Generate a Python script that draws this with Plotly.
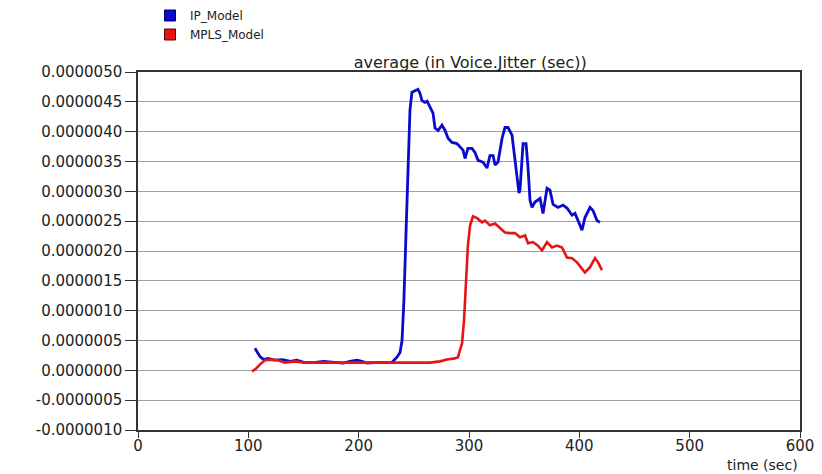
import plotly.graph_objects as go

# ---- data (time in sec, jitter in microseconds; scaled to seconds below) ----
ip_time = [106, 110.6, 114, 117.8, 124, 131, 138, 144, 151, 159, 168, 177, 186, 192, 198.5,
           203, 207.6, 215, 224, 230, 234.7, 237.5, 239.3, 241, 243, 244.7, 246.5, 248.3,
           251, 253.8, 255.6, 257.4, 260, 262, 264.7, 267.4, 269.2, 272, 275.5, 278.3, 281,
           284.6, 289, 291.8, 294.6, 296.4, 299, 302.7, 305.4, 308.2, 312.7, 316.3, 319,
           321.8, 323.6, 326.3, 330, 332.6, 335.4, 339, 341.7, 343.5, 345.3, 346.2, 349,
           351.7, 353.5, 355.3, 357.1, 359.8, 364.4, 367.1, 370.7, 373.4, 376.2, 380.7,
           385.2, 388.8, 393.4, 396.1, 400.6, 402.4, 405.1, 409.7, 412.4, 416, 418.7]
ip_jitter_us = [0.37, 0.23, 0.18, 0.20, 0.17, 0.18, 0.15, 0.17, 0.13, 0.13, 0.15, 0.13, 0.12,
                0.15, 0.17, 0.15, 0.12, 0.13, 0.13, 0.13, 0.22, 0.30, 0.50, 1.17, 2.35, 3.52,
                4.36, 4.66, 4.69, 4.71, 4.64, 4.52, 4.49, 4.51, 4.41, 4.31, 4.06, 4.02, 4.11,
                4.02, 3.89, 3.82, 3.80, 3.74, 3.69, 3.55, 3.72, 3.72, 3.65, 3.52, 3.49, 3.39,
                3.60, 3.60, 3.44, 3.49, 3.89, 4.07, 4.07, 3.94, 3.55, 3.23, 2.97, 3.02, 3.80,
                3.80, 3.40, 2.85, 2.73, 2.82, 2.88, 2.63, 3.05, 3.02, 2.78, 2.73, 2.77, 2.72,
                2.60, 2.63, 2.43, 2.35, 2.56, 2.73, 2.68, 2.51, 2.48]

mpls_time = [103.3, 107, 110.6, 115, 119.6, 127, 133, 142, 151, 160, 169.5, 183, 196.7, 210,
             224, 233, 242, 249, 257.4, 264.7, 273.7, 280, 287, 290, 291.8, 293.7, 295.5,
             297.3, 299, 301, 303.6, 307.3, 311.8, 314.5, 319, 323.6, 328, 332.6, 337.2,
             341.7, 346.2, 350.8, 353.5, 358, 362.5, 366.2, 370.7, 375.2, 379.8, 384.3, 388.8,
             393.4, 397.9, 402.4, 405.1, 409.7, 414.2, 417, 420.5]
mpls_jitter_us = [-0.02, 0.03, 0.10, 0.17, 0.18, 0.17, 0.13, 0.15, 0.13, 0.13, 0.13, 0.13,
                  0.13, 0.12, 0.13, 0.13, 0.13, 0.12, 0.13, 0.13, 0.15, 0.18, 0.20, 0.22, 0.34,
                  0.45, 0.84, 1.51, 2.09, 2.43, 2.58, 2.55, 2.48, 2.51, 2.43, 2.46, 2.38, 2.31,
                  2.30, 2.30, 2.23, 2.26, 2.13, 2.15, 2.09, 2.01, 2.15, 2.06, 2.09, 2.06, 1.89,
                  1.88, 1.81, 1.71, 1.64, 1.73, 1.88, 1.81, 1.68]

series_names = ["IP_Model", "MPLS_Model"]
y_tick_vals = [-1.0e-6, -0.5e-6, 0.0, 0.5e-6, 1.0e-6, 1.5e-6, 2.0e-6, 2.5e-6,
               3.0e-6, 3.5e-6, 4.0e-6, 4.5e-6, 5.0e-6]
y_tick_text = ["-0.0000010", "-0.0000005", "0.0000000", "0.0000005", "0.0000010",
               "0.0000015", "0.0000020", "0.0000025", "0.0000030", "0.0000035",
               "0.0000040", "0.0000045", "0.0000050"]
x_tick_vals = [0, 100, 200, 300, 400, 500, 600]

US = 1e-6
BLUE = "#0a0acc"
RED = "#e81414"
FONT = "DejaVu Sans"
TXT = "#222222"

fig = go.Figure()
fig.add_trace(go.Scatter(x=ip_time, y=[v * US for v in ip_jitter_us], mode="lines",
                         line=dict(color=BLUE, width=2.8), showlegend=False))
fig.add_trace(go.Scatter(x=mpls_time, y=[v * US for v in mpls_jitter_us], mode="lines",
                         line=dict(color=RED, width=2.6), showlegend=False))
# legend entries (square swatches)
for name, col, edge in [(series_names[0], BLUE, "#000060"), (series_names[1], RED, "#600000")]:
    fig.add_trace(go.Scatter(x=[None], y=[None], mode="markers", name=name,
                             marker=dict(symbol="square", size=11, color=col,
                                         line=dict(color=edge, width=1))))

fig.update_layout(
    width=822, height=474,
    margin=dict(l=138, r=22, t=72, b=44, autoexpand=False),
    paper_bgcolor="white", plot_bgcolor="white",
    font=dict(family=FONT, size=14, color=TXT),
    title=dict(text="average (in Voice.Jitter (sec))", x=0.572, xanchor="center",
               y=1 - 62 / 474, yanchor="middle", font=dict(family=FONT, size=16, color=TXT)),
    legend=dict(xref="container", yref="container", x=150 / 822, y=1 - 1 / 474,
                xanchor="left", yanchor="top", bgcolor="rgba(0,0,0,0)",
                font=dict(family=FONT, size=12, color=TXT),
                itemwidth=30, tracegroupgap=0),
    showlegend=True,
)
fig.update_xaxes(range=[0, 600], tickvals=x_tick_vals, showgrid=False, zeroline=False,
                 showline=True, linecolor="#333333", linewidth=1.5, mirror=True,
                 ticks="outside", ticklen=6, tickcolor="#333333", ticklabelstandoff=-5,
                 tickfont=dict(family=FONT, size=15, color=TXT))
fig.update_yaxes(range=[-1.0e-6, 5.0e-6], tickvals=y_tick_vals, ticktext=y_tick_text,
                 showgrid=True, gridcolor="#a0a0a0", gridwidth=1, zeroline=False,
                 showline=True, linecolor="#333333", linewidth=1.5, mirror=True,
                 ticks="outside", ticklen=11, tickcolor="#333333",
                 tickfont=dict(family=FONT, size=15, color=TXT))
fig.add_annotation(text="time (sec)", xref="paper", yref="paper", x=1.0, y=-35 / 358,
                   xanchor="right", yanchor="middle", showarrow=False,
                   font=dict(family=FONT, size=14, color=TXT))

fig.write_html("out.html")
